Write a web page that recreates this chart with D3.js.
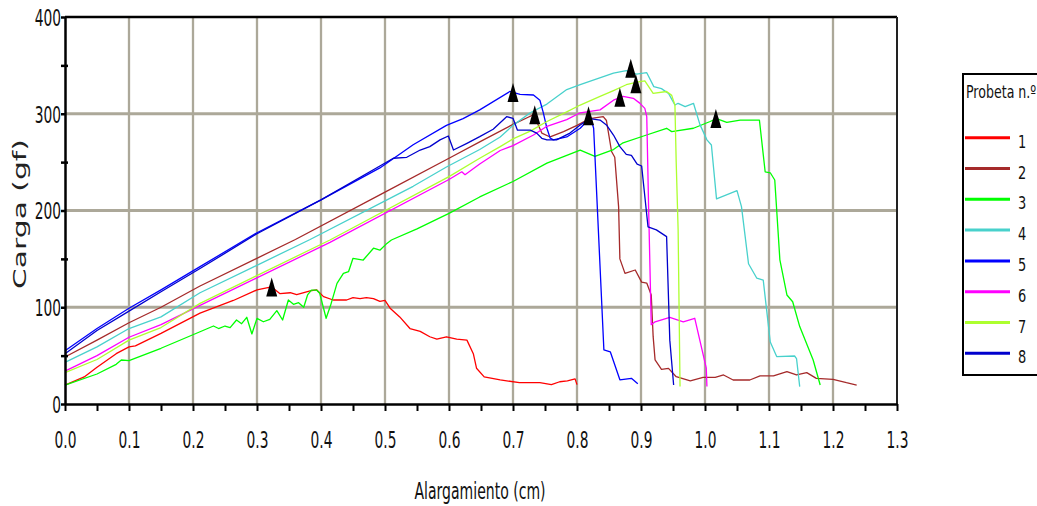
<!DOCTYPE html>
<meta charset="utf-8">
<style>
body { margin: 0; background: #fff; }
.grid line { stroke: #aca899; }
.axis path, .axis line { stroke: #000; }
.axis text { font-family: "DejaVu Sans"; fill: #111; }
</style>
<body>
<div id="chart"></div>
<script src="https://d3js.org/d3.v7.min.js"></script>
<script>

// Alargamiento (cm) vs Carga (gf), one series per probeta
var probetas = ["1", "2", "3", "4", "5", "6", "7", "8"];

var p1 = [[0,19.6],[0.03,28],[0.05,38],[0.08,52],[0.1,59],[0.11,60],[0.15,73],[0.211,94],[0.263,107],[0.3,118],[0.315,120],[0.323,121],[0.336,114],[0.352,115],[0.362,113],[0.383,117],[0.393,118],[0.404,111],[0.419,107.5],[0.44,107.5],[0.45,110],[0.461,109],[0.471,110],[0.482,109],[0.492,106],[0.5,107],[0.508,99],[0.523,90],[0.539,78],[0.555,75],[0.57,69.5],[0.581,67],[0.596,69.5],[0.612,67],[0.628,66],[0.638,52],[0.643,37],[0.655,28],[0.68,25],[0.71,22],[0.742,22],[0.76,20],[0.773,23],[0.785,24],[0.797,26],[0.8,20]];

var p2 = [[0,48.6],[0.05,66],[0.1,84],[0.15,100],[0.211,122],[0.36,170],[0.5,219],[0.6,254],[0.648,271],[0.7,289],[0.732,299],[0.737,292],[0.745,280],[0.758,276],[0.779,281.5],[0.8,288],[0.82,295],[0.841,297],[0.846,293],[0.854,261],[0.859,255],[0.865,204],[0.867,150],[0.875,135],[0.891,138.5],[0.901,126],[0.909,125],[0.916,112.7],[0.919,69.6],[0.922,45.5],[0.932,35.8],[0.943,36.8],[0.955,28.2],[0.977,24],[0.997,27.5],[1.016,27.5],[1.029,30],[1.044,24.8],[1.07,24.8],[1.086,29],[1.107,29],[1.128,33.4],[1.143,30],[1.159,32.4],[1.174,26.5],[1.2,25.5],[1.221,22],[1.237,19.6]];

var p3 = [[0,19.6],[0.05,31],[0.08,41],[0.088,45.5],[0.1,44.8],[0.15,57.6],[0.211,74.7],[0.232,80.6],[0.24,78],[0.25,80.6],[0.258,79],[0.268,86.8],[0.276,83],[0.284,89.6],[0.292,72.4],[0.3,88.5],[0.31,85],[0.32,87.5],[0.331,96.5],[0.34,86.8],[0.349,107.5],[0.357,103],[0.365,104.7],[0.373,100],[0.379,112.7],[0.385,117.8],[0.393,117.8],[0.398,114.4],[0.408,88.6],[0.415,102],[0.425,124.7],[0.435,135],[0.443,136.7],[0.45,150.6],[0.466,148.8],[0.482,161],[0.492,159],[0.503,166],[0.51,169.5],[0.55,181],[0.6,197],[0.648,214],[0.7,230],[0.753,249],[0.805,262.5],[0.828,256],[0.857,263],[0.872,270],[0.904,277],[0.94,285],[0.948,281.5],[0.982,285],[1.008,292],[1.018,295],[1.034,291],[1.055,293.5],[1.085,293.5],[1.094,240],[1.102,239],[1.109,231.5],[1.117,149],[1.128,112.7],[1.137,105.7],[1.148,80],[1.169,45.5],[1.18,19.6]];

var p4 = [[0,43],[0.05,59],[0.1,78],[0.15,90],[0.211,115],[0.383,170],[0.5,210],[0.544,225],[0.596,245],[0.648,263],[0.68,276],[0.7,288],[0.727,301],[0.753,310],[0.784,325],[0.805,330],[0.857,342],[0.877,344.5],[0.893,341],[0.909,342.4],[0.92,328],[0.932,326],[0.943,321],[0.953,309],[0.958,310.8],[0.969,307.3],[0.982,310.8],[0.992,289],[1.003,273],[1.01,267.7],[1.018,212],[1.05,220.5],[1.057,204],[1.068,145],[1.081,130],[1.091,128],[1.102,64],[1.112,49],[1.14,49.6],[1.143,47],[1.148,18]];

var p5 = [[0,55],[0.05,78],[0.1,99],[0.15,118],[0.211,142],[0.3,177],[0.4,211],[0.492,244],[0.544,268],[0.596,288],[0.622,295],[0.648,304],[0.695,323],[0.711,320],[0.732,319.4],[0.742,314],[0.747,302],[0.753,285],[0.758,275],[0.763,273],[0.784,276],[0.805,285],[0.815,292],[0.823,292],[0.826,285],[0.828,257],[0.842,56],[0.852,54],[0.867,25],[0.885,26.5],[0.895,21]];

var p6 = [[0,34],[0.05,50],[0.1,69],[0.15,82],[0.211,102],[0.414,167],[0.6,232],[0.62,240],[0.625,237],[0.648,248],[0.68,262],[0.7,267],[0.732,278],[0.753,287],[0.784,294],[0.805,301],[0.836,304],[0.857,314],[0.872,318],[0.888,316],[0.898,311],[0.906,305.6],[0.909,297],[0.912,200],[0.916,82],[0.922,85],[0.945,89.6],[0.966,85],[0.984,88.6],[1.002,37],[1.003,18]];

var p7 = [[0,32.4],[0.05,46],[0.1,66],[0.15,79],[0.211,104],[0.414,169.5],[0.6,235],[0.648,254],[0.68,266],[0.7,274],[0.727,282],[0.753,292],[0.784,302],[0.805,309],[0.836,318],[0.857,324],[0.877,330],[0.896,333],[0.906,334],[0.919,321],[0.94,323],[0.948,319],[0.953,309],[0.955,250],[0.958,180],[0.961,18]];

var p8 = [[0,52],[0.05,76],[0.1,96],[0.15,116],[0.211,140],[0.3,176],[0.4,211],[0.492,246],[0.513,254],[0.534,255],[0.555,262.5],[0.57,266],[0.586,273],[0.599,277],[0.607,262.5],[0.628,269.4],[0.648,276.3],[0.669,284],[0.69,297],[0.7,295.3],[0.707,283],[0.716,283],[0.727,283],[0.737,280],[0.745,274.6],[0.753,273],[0.768,273],[0.789,280],[0.805,288.4],[0.82,295],[0.836,293.5],[0.846,288.4],[0.857,278],[0.867,266],[0.877,258],[0.885,257],[0.894,248],[0.901,246],[0.911,183],[0.924,180],[0.94,173],[0.945,66],[0.951,19.6]];

var series = [p1, p2, p3, p4, p5, p6, p7, p8];

// maximum load marker of each probeta
var picos = [[0.323,121],[0.734,299],[1.017,295],[0.884,347],[0.7,322],[0.867,317],[0.892,331],[0.818,298]];

var xTicks = d3.range(0, 27).map(function(i) { return i * 0.05; });
var yTicks = d3.range(0, 9).map(function(i) { return i * 50; });

var width = 1037, height = 506;

var color = d3.scaleOrdinal()
    .domain(probetas)
    .range(["#ff0000", "#a52a2a", "#00ff00", "#48d1cc", "#0000ff", "#ff00ff", "#adff2f", "#0000cd"]);

var x = d3.scaleLinear().domain([0, 1.3]).range([65, 897]);
var y = d3.scaleLinear().domain([0, 400]).range([404, 17]);

var svg = d3.select("#chart")
    .append("svg")
    .attr("width", width)
    .attr("height", height);

// grid
var grid = svg.append("g").attr("class", "grid");
grid.selectAll(".v")
    .data(d3.range(1, 13).map(function(i) { return i / 10; }))
  .enter().append("line")
    .attr("x1", function(d) { return x(d); })
    .attr("x2", function(d) { return x(d); })
    .attr("y1", y(400))
    .attr("y2", y(0))
    .style("stroke-width", 2.3);
grid.selectAll(".h")
    .data([100, 200, 300])
  .enter().append("line")
    .attr("x1", x(0))
    .attr("x2", x(1.3))
    .attr("y1", function(d) { return y(d); })
    .attr("y2", function(d) { return y(d); })
    .style("stroke-width", 3);

// frame top + right
svg.append("line")
    .attr("x1", x(0)).attr("x2", x(1.3))
    .attr("y1", y(400)).attr("y2", y(400))
    .style("stroke", "#000").style("stroke-width", 2.5);
svg.append("line")
    .attr("x1", x(1.3)).attr("x2", x(1.3))
    .attr("y1", y(400)).attr("y2", y(0))
    .style("stroke", "#222").style("stroke-width", 2);

// curves
var line = d3.line()
    .x(function(d) { return x(d[0]); })
    .y(function(d) { return y(d[1]); });

svg.append("g").selectAll("path")
    .data(series)
  .enter().append("path")
    .attr("d", line)
    .style("fill", "none")
    .style("stroke", function(d, i) { return color(probetas[i]); })
    .style("stroke-width", 1.3)
    .style("stroke-linejoin", "round");

// markers
svg.append("g").selectAll("path")
    .data(picos)
  .enter().append("path")
    .attr("d", "M0,-9.5L5.5,9.5L-5.5,9.5Z")
    .attr("transform", function(d) { return "translate(" + x(d[0]) + "," + y(d[1]) + ")"; })
    .style("fill", "#000");

// axes
var fmt = d3.format(".1f");
var xAxis = svg.append("g")
    .attr("class", "axis")
    .attr("transform", "translate(0," + y(0) + ")")
    .call(d3.axisBottom(x)
      .tickValues(xTicks)
      .tickSize(7)
      .tickSizeOuter(0)
      .tickFormat(function(d, i) { return i % 2 ? "" : fmt(d); }));
xAxis.select(".domain").style("stroke-width", 2.5);
xAxis.selectAll(".tick line").style("stroke-width", 2);
xAxis.selectAll("text")
    .attr("y", 28)
    .style("font-size", "23px")
    .attr("transform", "scale(0.6,1)");

var yAxis = svg.append("g")
    .attr("class", "axis")
    .attr("transform", "translate(" + x(0) + ",0)")
    .call(d3.axisLeft(y)
      .tickValues(yTicks)
      .tickSize(4)
      .tickSizeOuter(0)
      .tickFormat(function(d) { return d % 100 ? "" : d; }));
yAxis.select(".domain").style("stroke-width", 2.5);
yAxis.selectAll(".tick line")
    .style("stroke-width", 2.5)
    .attr("x1", function(d) { return d % 100 ? 3 : 0; });
yAxis.selectAll("text")
    .attr("x", -4 / 0.6)
    .attr("y", 1)
    .style("font-size", "23px")
    .attr("transform", "scale(0.6,1)");

// titles
svg.append("text")
    .attr("transform", "translate(480,499) scale(0.61,1)")
    .attr("text-anchor", "middle")
    .style("font-family", "DejaVu Sans")
    .style("font-size", "23px")
    .style("fill", "#111")
    .text("Alargamiento (cm)");

svg.append("text")
    .attr("transform", "translate(26,214) rotate(-90) scale(1.75,1)")
    .attr("text-anchor", "middle")
    .style("font-family", "DejaVu Sans")
    .style("font-size", "17px")
    .style("fill", "#222")
    .text("Carga (gf)");

// legend
var legend = svg.append("g");
legend.append("rect")
    .attr("x", 963).attr("y", 74)
    .attr("width", 100).attr("height", 301)
    .style("fill", "#fff")
    .style("stroke", "#000")
    .style("stroke-width", 2);
legend.append("text")
    .attr("transform", "translate(966,98) scale(0.72,1)")
    .style("font-family", "DejaVu Sans")
    .style("font-size", "17.5px")
    .style("fill", "#111")
    .text("Probeta n.º");

var item = legend.selectAll(".item")
    .data(probetas)
  .enter().append("g")
    .attr("transform", function(d, i) { return "translate(0," + (137.7 + i * 30.8) + ")"; });
item.append("line")
    .attr("x1", 965).attr("x2", 1010)
    .style("stroke", function(d) { return color(d); })
    .style("stroke-width", 3);
item.append("text")
    .attr("transform", "translate(1022,10) scale(0.72,1)")
    .attr("text-anchor", "middle")
    .style("font-family", "DejaVu Sans")
    .style("font-size", "18px")
    .style("fill", "#111")
    .text(function(d) { return d; });

</script>
</body>
</html>
